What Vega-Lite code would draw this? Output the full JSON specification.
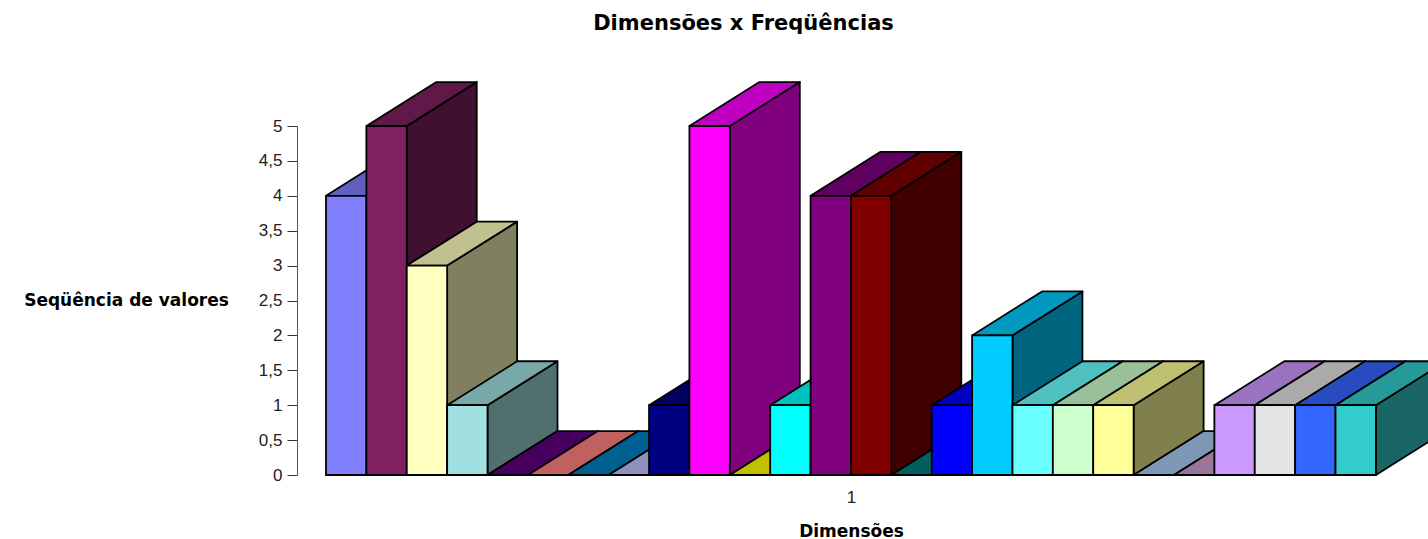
{
"$schema":"https://vega.github.io/schema/vega-lite/v6.json",
"width":1131,"height":349,
"autosize":{"type":"none"},
"padding":{"left":297,"top":126,"right":0,"bottom":64},
"background":"white",
"title":{"text":"Dimensões x Freqüências","font":"DejaVu Sans","fontWeight":"bold","fontSize":21,"color":"black","anchor":"middle","frame":"group","dx":-119,"offset":47},
"config":{"view":{"stroke":null}},
"data":{"values":[
{"serie":1,"valor":4},{"serie":2,"valor":5},{"serie":3,"valor":3},{"serie":4,"valor":1},{"serie":5,"valor":0},{"serie":6,"valor":0},{"serie":7,"valor":0},{"serie":8,"valor":0},{"serie":9,"valor":1},{"serie":10,"valor":5},{"serie":11,"valor":0},{"serie":12,"valor":1},{"serie":13,"valor":4},{"serie":14,"valor":4},{"serie":15,"valor":0},{"serie":16,"valor":1},{"serie":17,"valor":2},{"serie":18,"valor":1},{"serie":19,"valor":1},{"serie":20,"valor":1},{"serie":21,"valor":0},{"serie":22,"valor":0},{"serie":23,"valor":1},{"serie":24,"valor":1},{"serie":25,"valor":1},{"serie":26,"valor":1}
]},
"transform":[
{"calculate":"datum.serie-1","as":"esq"},
{"calculate":"datum.serie+0","as":"dir"}
],
"layer":[
{"transform":[
{"fold":["side","top"],"as":["face","f"]},
{"fold":["a","b","c","d","e"],"as":["corner","g"]},
{"calculate":"datum.face=='side' ? ((datum.corner=='c'||datum.corner=='d') ? datum.dir+1.733 : datum.dir) : (datum.corner=='b' ? datum.dir : datum.corner=='c' ? datum.dir+1.733 : datum.corner=='d' ? datum.esq+1.733 : datum.esq)","as":"px"},
{"calculate":"datum.face=='side' ? (datum.corner=='a'||datum.corner=='e' ? 0 : datum.corner=='b' ? datum.valor : datum.corner=='c' ? datum.valor+0.63 : 0.63) : ((datum.corner=='c'||datum.corner=='d') ? datum.valor+0.63 : datum.valor)","as":"py"},
{"calculate":"datum.serie+'-'+datum.face","as":"chave"}
],
"mark":{"type":"line","filled":true,"stroke":"black","strokeWidth":1.8,"strokeJoin":"round","clip":false,"interpolate":"linear"},
"encoding":{
"x":{"field":"px","type":"quantitative","scale":{"domain":[-0.718,27.29],"nice":false,"zero":false},
"axis":{"title":"Dimensões","titleFont":"DejaVu Sans","titleFontWeight":"bold","titleFontSize":17,"titleColor":"black","titleX":554,"titleY":56,"titleBaseline":"middle","grid":false,"domain":false,"ticks":false,"values":[13],"labelExpr":"'1'","labelFont":"Liberation Sans","labelFontSize":17,"labelColor":"#222222","labelPadding":14}},
"y":{"field":"py","type":"quantitative","scale":{"domain":[0,5],"nice":false,"zero":false},
"axis":{"title":"Seqüência de valores","titleFont":"DejaVu Sans","titleFontWeight":"bold","titleFontSize":17,"titleColor":"black","titleAngle":0,"titleAlign":"center","titleBaseline":"middle","titleX":-171,"titleY":174,"grid":false,"values":[0,0.5,1,1.5,2,2.5,3,3.5,4,4.5,5],"labelExpr":"replace(toString(datum.value),'.',',')","labelFont":"Liberation Sans","labelFontSize":17,"labelColor":"#222222","labelPadding":5,"tickSize":10,"tickColor":"#333333","domainColor":"#555555","labelFlush":false,"labelOverlap":false}},
"detail":{"field":"chave"},
"order":{"field":"corner"},
"fill":{"field":"chave","type":"nominal","legend":null,"scale":{
"domain":["1-side","2-side","3-side","4-side","5-side","6-side","7-side","8-side","9-side","10-side","11-side","12-side","13-side","14-side","15-side","16-side","17-side","18-side","19-side","20-side","21-side","22-side","23-side","24-side","25-side","26-side","1-top","2-top","3-top","4-top","5-top","6-top","7-top","8-top","9-top","10-top","11-top","12-top","13-top","14-top","15-top","16-top","17-top","18-top","19-top","20-top","21-top","22-top","23-top","24-top","25-top","26-top"],
"range":["#404080","#401030","#808060","#507070","#300040","#804040","#004060","#606080","#000040","#800080","#808000","#008080","#400040","#400000","#004040","#000080","#006680","#348080","#668066","#80804C","#536578","#664E66","#664C80","#727272","#1A3380","#1A6666","#6060C0","#601848","#C0C090","#78A8A8","#480060","#C06060","#006090","#9090C0","#000060","#C000C0","#C0C000","#00C0C0","#600060","#600000","#006060","#0000C0","#0099C0","#4FC0C0","#99C099","#C0C073","#7D98B4","#997599","#9973C0","#AAAAAA","#264CC0","#269999"]}}
}},
{"mark":{"type":"rect","stroke":"black","strokeWidth":1.8},
"encoding":{
"x":{"field":"esq","type":"quantitative","axis":{"title":"Dimensões","titleFont":"DejaVu Sans","titleFontWeight":"bold","titleFontSize":17,"titleColor":"black","titleX":554,"titleY":56,"titleBaseline":"middle","grid":false,"domain":false,"ticks":false,"values":[13],"labelExpr":"'1'","labelFont":"Liberation Sans","labelFontSize":17,"labelColor":"#222222","labelPadding":14}},
"x2":{"field":"dir"},
"y":{"field":"valor","type":"quantitative","axis":{"title":"Seqüência de valores","titleFont":"DejaVu Sans","titleFontWeight":"bold","titleFontSize":17,"titleColor":"black","titleAngle":0,"titleAlign":"center","titleBaseline":"middle","titleX":-171,"titleY":174,"grid":false,"values":[0,0.5,1,1.5,2,2.5,3,3.5,4,4.5,5],"labelExpr":"replace(toString(datum.value),'.',',')","labelFont":"Liberation Sans","labelFontSize":17,"labelColor":"#222222","labelPadding":5,"tickSize":10,"tickColor":"#333333","domainColor":"#555555","labelFlush":false,"labelOverlap":false}},
"y2":{"datum":0},
"fill":{"field":"serie","type":"nominal","legend":null,"scale":{
"domain":[1,2,3,4,5,6,7,8,9,10,11,12,13,14,15,16,17,18,19,20,21,22,23,24,25,26],
"range":["#8080FF","#802060","#FFFFC0","#A0E0E0","#600080","#FF8080","#0080C0","#C0C0FF","#000080","#FF00FF","#FFFF00","#00FFFF","#800080","#800000","#008080","#0000FF","#00CCFF","#69FFFF","#CCFFCC","#FFFF99","#A6CAF0","#CC9CCC","#CC99FF","#E3E3E3","#3366FF","#33CCCC"]}}
}}
],
"resolve":{"scale":{"fill":"independent"}}
}
